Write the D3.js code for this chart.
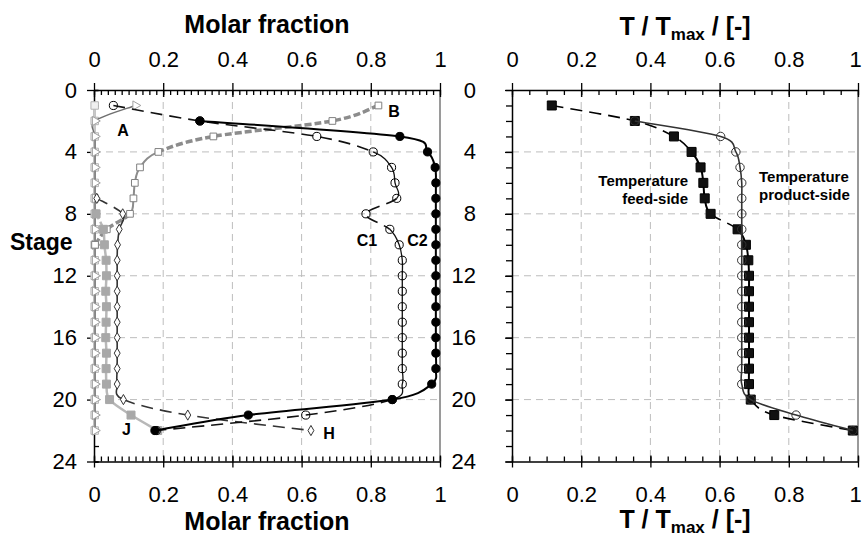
<!DOCTYPE html>
<html>
<head>
<meta charset="utf-8">
<script src="https://cdn.jsdelivr.net/npm/d3@7"></script>
<style>
  body { margin: 0; background: #fff; }
  svg text { font-family: "Liberation Sans", Arial, sans-serif; fill: #000; }
</style>
</head>
<body>
<svg id="chart" width="863" height="537"></svg>
<script>
// Stages on the vertical axis
var stages = [1, 2, 3, 4, 5, 6, 7, 8, 9, 10, 11, 12, 13, 14, 15, 16, 17, 18, 19, 20, 21, 22];

// Left panel: molar fractions per stage (null = not plotted)
var fracD  = [0.002, 0.002, 0.002, 0.002, 0.002, 0.002, 0.002, 0.002, 0.002, 0.002, 0.002,
              0.002, 0.002, 0.002, 0.002, 0.002, 0.002, 0.002, 0.002, 0.002, 0.002, 0.002];
var fracA  = [0.12, 0.003, 0.003, 0.003, 0.003, 0.003, 0.003, 0.003, 0.003, 0.003, 0.003,
              0.003, 0.003, 0.003, 0.003, 0.003, 0.003, 0.003, 0.003, 0.003, 0.003, 0.003];
var fracB  = [0.822, 0.689, 0.345, 0.186, 0.133, 0.118, 0.114, 0.104, 0.037, 0.003, null,
              null, null, null, null, null, null, null, null, null, null, null];
var fracJ  = [null, null, null, null, null, null, null, 0.006, 0.027, 0.030, 0.035,
              0.036, 0.034, 0.036, 0.035, 0.034, 0.036, 0.035, 0.036, 0.045, 0.107, 0.184];
var fracH  = [null, null, null, null, null, null, 0.008, 0.083, 0.073, 0.068, 0.067,
              0.067, 0.067, 0.067, 0.067, 0.067, 0.067, 0.067, 0.067, 0.085, 0.271, 0.627];
var fracC1 = [0.056, 0.306, 0.644, 0.807, 0.860, 0.870, 0.875, 0.786, 0.855, 0.882, 0.891,
              0.891, 0.891, 0.891, 0.891, 0.891, 0.891, 0.891, 0.891, 0.862, 0.612, 0.180];
var fracC2 = [null, 0.306, 0.884, 0.964, 0.986, 0.988, 0.988, 0.988, 0.988, 0.988, 0.988,
              0.988, 0.988, 0.988, 0.988, 0.988, 0.988, 0.988, 0.976, 0.862, 0.446, 0.176];

// Right panel: T / Tmax per stage
var tFeed    = [0.115, 0.355, 0.468, 0.519, 0.545, 0.553, 0.557, 0.574, 0.652, 0.676, 0.683,
                0.685, 0.685, 0.685, 0.685, 0.685, 0.685, 0.685, 0.685, 0.690, 0.758, 0.985];
var tProduct = [null, 0.355, 0.603, 0.647, 0.659, 0.664, 0.664, 0.664, 0.664, 0.664, 0.664,
                0.664, 0.664, 0.664, 0.664, 0.664, 0.664, 0.664, 0.664, 0.690, 0.821, 0.985];

// Tick labels
var xTicks = [0, 0.2, 0.4, 0.6, 0.8, 1];
var yTicks = [0, 4, 8, 12, 16, 20, 24];

var svg = d3.select("#chart");
var font = '"Liberation Sans", Arial, sans-serif';

var y = d3.scaleLinear().domain([0, 24]).range([90, 461.5]);
var xL = d3.scaleLinear().domain([0, 1]).range([94, 440]);
var xR = d3.scaleLinear().domain([0, 1]).range([512, 858]);

var fmt = function(d) { return String(d); };

function styleAxis(g) {
  g.attr("font-size", 22).attr("font-family", font);
  g.selectAll("line").attr("stroke", "#000").attr("stroke-width", 1.3);
  g.selectAll("path.domain").attr("stroke", "#000").attr("stroke-width", 1.5);
  g.selectAll("text").attr("fill", "#000");
}

function drawFrame(g, x, minorStep, yOutward, yPad) {
  // grid lines
  g.append("g").selectAll("line").data([0.2, 0.4, 0.6, 0.8]).join("line")
    .attr("x1", function(d) { return x(d); }).attr("x2", function(d) { return x(d); })
    .attr("y1", y(0)).attr("y2", y(24))
    .attr("stroke", "#bdbdbd").attr("stroke-dasharray", "7,5");
  g.append("g").selectAll("line").data([4, 8, 12, 16, 20]).join("line")
    .attr("x1", x(0)).attr("x2", x(1))
    .attr("y1", function(d) { return y(d); }).attr("y2", function(d) { return y(d); })
    .attr("stroke", "#bdbdbd").attr("stroke-dasharray", "7,5");
  // right border
  g.append("line").attr("x1", x(1)).attr("x2", x(1)).attr("y1", y(0)).attr("y2", y(24))
    .attr("stroke", "#9a9a9a").attr("stroke-width", 2);

  var minor = d3.range(0, 1.0001, minorStep);
  var stageTicks = d3.range(0, 25, 1);

  // top
  g.append("g").attr("transform", "translate(0," + y(0) + ")")
    .call(d3.axisTop(x).tickValues(xTicks).tickFormat(fmt).tickSizeInner(7).tickSizeOuter(0).tickPadding(16))
    .call(styleAxis);
  g.append("g").attr("transform", "translate(0," + y(0) + ")")
    .call(d3.axisTop(x).tickValues(minor).tickFormat("").tickSize(-5))
    .call(styleAxis).call(function(a) { a.select(".domain").remove(); });
  g.append("g").attr("transform", "translate(0," + y(0) + ")")
    .call(d3.axisTop(x).tickValues(xTicks).tickFormat("").tickSize(-7))
    .call(styleAxis).call(function(a) { a.select(".domain").remove(); });

  // bottom
  g.append("g").attr("transform", "translate(0," + y(24) + ")")
    .call(d3.axisBottom(x).tickValues(xTicks).tickFormat(fmt).tickSizeInner(6).tickSizeOuter(0).tickPadding(19))
    .call(styleAxis);
  g.append("g").attr("transform", "translate(0," + y(24) + ")")
    .call(d3.axisBottom(x).tickValues(minor).tickFormat("").tickSize(-5))
    .call(styleAxis).call(function(a) { a.select(".domain").remove(); });
  g.append("g").attr("transform", "translate(0," + y(24) + ")")
    .call(d3.axisBottom(x).tickValues(xTicks).tickFormat("").tickSize(-6))
    .call(styleAxis).call(function(a) { a.select(".domain").remove(); });

  // keep the last "1" inside the picture on the right-hand panel
  if (x(1) > 850) {
    g.selectAll(".tick text").filter(function(d) { return d === 1; }).attr("dx", -3);
  }

  // left
  g.append("g").attr("transform", "translate(" + x(0) + ",0)")
    .call(d3.axisLeft(y).tickValues(yTicks).tickFormat(fmt).tickSizeInner(7).tickSizeOuter(0).tickPadding(yPad))
    .call(styleAxis);
  g.append("g").attr("transform", "translate(" + x(0) + ",0)")
    .call(d3.axisLeft(y).tickValues(stageTicks).tickFormat("").tickSize(yOutward ? 6 : -5))
    .call(styleAxis).call(function(a) { a.select(".domain").remove(); });
  if (!yOutward) {
    g.append("g").attr("transform", "translate(" + x(0) + ",0)")
      .call(d3.axisLeft(y).tickValues(yTicks).tickFormat("").tickSize(-4))
      .call(styleAxis).call(function(a) { a.select(".domain").remove(); });
  }
}

// smoothed line through the stage points, split into solid / dashed pieces
function drawSeries(g, x, ser) {
  var pts = [];
  stages.forEach(function(s, i) {
    if (ser.values[i] != null) pts.push({ s: s, px: x(ser.values[i]), py: y(s) });
  });
  var n = pts.length;
  var i = 0;
  while (i < n - 1) {
    var dashed = ser.dash.indexOf(pts[i].s) >= 0;
    var p = d3.path();
    p.moveTo(pts[i].px, pts[i].py);
    var j = i;
    while (j < n - 1 && (ser.dash.indexOf(pts[j].s) >= 0) === dashed) {
      var a = pts[Math.max(j - 1, 0)], b = pts[j], c = pts[j + 1], d = pts[Math.min(j + 2, n - 1)];
      p.bezierCurveTo(b.px + (c.px - a.px) / 6, b.py + (c.py - a.py) / 6,
                      c.px - (d.px - b.px) / 6, c.py - (d.py - b.py) / 6, c.px, c.py);
      j++;
    }
    g.append("path").attr("d", p.toString())
      .attr("fill", "none").attr("stroke", ser.line)
      .attr("stroke-width", dashed && ser.dashWidth ? ser.dashWidth : ser.width)
      .attr("stroke-dasharray", dashed ? ser.dashArray : null);
    i = j;
  }
  g.append("g").selectAll("path").data(pts).join("path")
    .attr("d", d3.symbol().type(ser.symbol).size(ser.size))
    .attr("transform", function(d) {
      return "translate(" + d.px + "," + d.py + ")" + (ser.rotate ? " rotate(" + ser.rotate + ")" : "");
    })
    .attr("fill", ser.fill).attr("stroke", ser.stroke).attr("stroke-width", 1);
}

// ---- left panel ----
var left = svg.append("g");
drawFrame(left, xL, 0.02, false, 10);

var leftSeries = [
  { values: fracD, symbol: d3.symbolSquare, size: 56, stroke: "#b5b5b5", fill: "#f0f0f0", line: "#c8c8c8", width: 2, dash: [] },
  { values: fracA, symbol: d3.symbolTriangle, rotate: 90, size: 36, stroke: "#a0a0a0", fill: "#fff", line: "#707070", width: 1.4, dash: [] },
  { values: fracB, symbol: d3.symbolSquare, size: 45, stroke: "#808080", fill: "#fff", line: "#8c8c8c", width: 2, dash: [1, 2, 3, 8, 9], dashArray: "7,3", dashWidth: 3.5 },
  { values: fracJ, symbol: d3.symbolSquare, size: 64, stroke: "#a8a8a8", fill: "#a8a8a8", line: "#b8b8b8", width: 2.5, dash: [8] , dashArray: "6,3" },
  { values: fracH, symbol: d3.symbolDiamond, size: 30, stroke: "#333", fill: "#fff", line: "#333", width: 1.6, dash: [7, 20, 21], dashArray: "12,7" },
  { values: fracC1, symbol: d3.symbolCircle, size: 52, stroke: "#000", fill: "none", line: "#111", width: 1.3, dash: [1, 2, 3, 7, 8, 20, 21], dashArray: "12,7", dashWidth: 1.6 },
  { values: fracC2, symbol: d3.symbolCircle, size: 52, stroke: "#000", fill: "#000", line: "#000", width: 2, dash: [] }
];
leftSeries.forEach(function(s) { drawSeries(left.append("g"), xL, s); });

var leftLabels = [
  { text: "A", x: 0.084, s: 2.62 },
  { text: "B", x: 0.867, s: 1.36 },
  { text: "C1", x: 0.789, s: 9.7 },
  { text: "C2", x: 0.935, s: 9.7 },
  { text: "H", x: 0.679, s: 22.2 },
  { text: "J", x: 0.094, s: 21.9 }
];
left.append("g").selectAll("text").data(leftLabels).join("text")
  .attr("x", function(d) { return xL(d.x); }).attr("y", function(d) { return y(d.s); })
  .attr("dy", "0.36em").attr("text-anchor", "middle")
  .attr("font-size", 16).attr("font-weight", "bold")
  .text(function(d) { return d.text; });

left.append("text").attr("x", xL(0.5)).attr("y", 33).attr("text-anchor", "middle")
  .attr("font-size", 25).attr("font-weight", "bold").text("Molar fraction");
left.append("text").attr("x", xL(0.5)).attr("y", 530).attr("text-anchor", "middle")
  .attr("font-size", 25).attr("font-weight", "bold").text("Molar fraction");
left.append("text").attr("x", 10).attr("y", 250)
  .attr("font-size", 23).attr("font-weight", "bold").text("Stage");

// ---- right panel ----
var right = svg.append("g");
drawFrame(right, xR, 0.05, true, 29);

var rightSeries = [
  { values: tFeed, symbol: d3.symbolSquare, size: 81, stroke: "#000", fill: "#111", line: "#000", width: 2, dash: [1, 2, 3, 8, 20, 21], dashArray: "12,7", dashWidth: 1.6 },
  { values: tProduct, symbol: d3.symbolCircle, size: 56, stroke: "#333", fill: "none", line: "#333", width: 1.6, dash: [] }
];
rightSeries.forEach(function(s) { drawSeries(right.append("g"), xR, s); });

var rightLabels = [
  { lines: ["Temperature", "feed-side"], x: 0.509, s: 6.21, anchor: "end" },
  { lines: ["Temperature", "product-side"], x: 0.714, s: 5.95, anchor: "start" }
];
rightLabels.forEach(function(l) {
  var t = right.append("text").attr("x", xR(l.x)).attr("y", y(l.s))
    .attr("text-anchor", l.anchor).attr("font-size", 15).attr("font-weight", "bold");
  l.lines.forEach(function(line, k) {
    t.append("tspan").attr("x", xR(l.x)).attr("dy", k === 0 ? 0 : 18).text(line);
  });
});

function tTitle(yPos) {
  var t = right.append("text").attr("x", xR(0.5)).attr("y", yPos).attr("text-anchor", "middle")
    .attr("font-size", 25).attr("font-weight", "bold");
  t.append("tspan").text("T / T");
  t.append("tspan").attr("font-size", 17).attr("dy", 5).text("max");
  t.append("tspan").attr("dy", -5).text(" / [-]");
}
tTitle(35);
tTitle(528);
</script>
</body>
</html>
